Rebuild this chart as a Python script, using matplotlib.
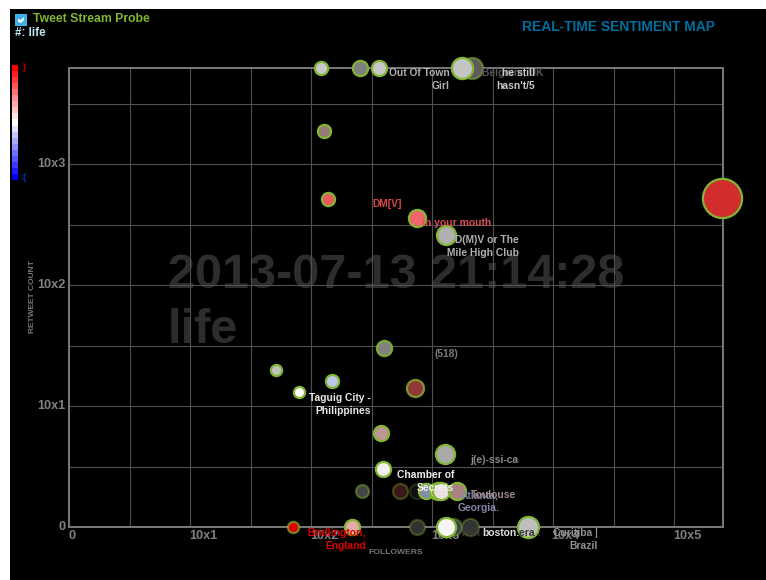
import matplotlib
matplotlib.use("Agg")
import matplotlib.pyplot as plt
from matplotlib.patches import Rectangle, Polygon

W, H = 766, 580

# followers / retweets, zero counts sit at 1 on the log axes
followers = [121, 255, 367, 2155, 1785, 129, 139, 755, 1313, 251000,
             403, 51, 150, 80, 728, 381, 1288, 395, 265, 547,
             755, 897, 1127, 1194, 1618, 71, 219, 755, 1500, 2073, 1313,
             6260]
retweets = [6210, 6210, 6210, 6210, 6210, 1874, 514, 358, 259, 524,
            30, 20, 16, 13, 14, 6, 4, 3, 2, 2,
            2, 2, 2, 2, 2, 1, 1, 1, 1, 1, 1,
            1]
sizes = [7, 8, 8, 11, 11, 7, 7, 9, 10, 20,
         8, 6, 7, 6, 9, 8, 10, 8, 7, 8,
         8, 8, 9, 9, 9, 6, 8, 8, 9, 9, 10,
         11]
fills = ["#c8c8c8", "#7f7f7f", "#c8c8c8", "#5c5c5c", "#c4c4c4", "#967878", "#eb5a5a", "#f0646e", "#b0b0b0", "#d22d2d",
         "#828282", "#c0c0c0", "#bec8eb", "#ffffff", "#913737", "#be9696", "#aaaaaa", "#f0f0f0", "#464646", "#3c1919",
         "#0f0f0f", "#828caf", "#d0d0d0", "#ebe1e1", "#aa8282", "#dc0000", "#e6aaaa", "#323232", "#3c4250", "#323232", "#f5f5f5",
         "#bebebe"]
edge_alpha = [1, 1, 1, 0.55, 1, 1, 1, 1, 1, 1,
              0.9, 1, 1, 1, 0.8, 1, 1, 1, 0.45, 0.35,
              0.2, 1, 1, 1, 1, 0.7, 1, 0.35, 0.4, 0.35, 1,
              1]

labels = ["Out Of Town\nGirl", "Belgium, UK", "he still\nhasn't/5", "DM[V]", "in your mouth",
          "D(M)V or The\nMile High Club", "(518)", "Taguig City -\nPhilippines", "j(e)-ssi-ca",
          "Chamber of\nSecrets", "Atlanta,\nGeorgia.", "Toulouse", "Bridlington,\nEngland",
          "Phil", "boston.", "era :", "Curitiba |\nBrazil"]
label_right = [450, 544, 535, 402, 491, 519, 458, 371, 518, 454, 499, 516, 366, 481, 519, 541, 598]
label_top = [68, 68, 68, 199, 218, 235, 349, 393, 455, 470, 490, 490, 528, 528, 528, 528, 528]
label_colors = ["#b0b0b0", "#555555", "#c8c8c8", "#d84848", "#e05058", "#b0b0b0", "#7a7a7a", "#e8e8e8", "#8a8a8a",
                "#f0f0f0", "#7f88aa", "#a08888", "#d80000", "#3a3a3a", "#e0e0e0", "#3a3a3a", "#909090"]

x_ticks = [10, 100, 1000, 10000, 100000]
x_tick_labels = ["10x1", "10x2", "10x3", "10x4", "10x5"]
y_ticks = [10, 100, 1000]
y_tick_labels = ["10x1", "10x2", "10x3"]

GREEN = (0.51, 0.71, 0.20)
plt.rcParams["font.family"] = ["Liberation Sans", "DejaVu Sans"]
plt.rcParams["font.weight"] = "bold"

fig = plt.figure(figsize=(W / 100, H / 100), dpi=100, facecolor="white")


def px(x, y):
    return x / W, 1 - y / H


def put(x, y, s, **kw):
    kw.setdefault("va", "center")
    fig.text(*px(x, y), s, **kw)


bg = fig.add_axes([0, 0, 1, 1], zorder=0)
bg.set_xlim(0, W)
bg.set_ylim(H, 0)
bg.axis("off")
bg.add_patch(Rectangle((10, 9), W - 10, H - 9, color="black", lw=0))

ax = fig.add_axes([69 / W, 1 - 527 / H, (722.5 - 69) / W, (527 - 68) / H], zorder=1)
ax.patch.set_alpha(0)
ax.set_xscale("log")
ax.set_yscale("log")
ax.set_xlim(1, 10 ** ((722.5 - 69) / 121))
ax.set_ylim(1, 10 ** ((527 - 68) / 121))
ax.set_xticks([10 ** (i / 2) for i in range(1, 11)])
ax.set_yticks([10 ** (i / 2) for i in range(1, 8)])
ax.minorticks_off()
ax.tick_params(length=0, labelbottom=False, labelleft=False)
ax.grid(True, color="#505050", lw=0.8)
ax.set_axisbelow(True)
for s in ax.spines.values():
    s.set_color("#7a7a7a")
    s.set_linewidth(1.4)

# watermark
bg.text(168, 288, "2013-07-13 21:14:28", color="#2d2d2d", fontsize=35, va="baseline", ha="left")
bg.text(168, 343, "life", color="#2d2d2d", fontsize=35, va="baseline", ha="left")

for i in range(len(followers)):
    ax.plot(followers[i], retweets[i], "o", ms=sizes[i] * 1.44 - 0.6,
            mfc=fills[i], mec=(*GREEN, edge_alpha[i]), mew=1.6, clip_on=False, zorder=3)

for t, r, y, c in zip(labels, label_right, label_top, label_colors):
    fig.text(*px(r, y), t, ha="right", va="top", multialignment="right",
             color=c, fontsize=7.4, linespacing=1.42)

# tick labels
for v, t in zip(x_ticks, x_tick_labels):
    ax.annotate(t, xy=(v, 1), xytext=(13, -9), textcoords="offset pixels", color="#808080",
                fontsize=9.2, ha="center", va="center", annotation_clip=False, zorder=2)
put(72, 536, "0", color="#808080", fontsize=9.2, ha="center")
for v, t in zip(y_ticks, y_tick_labels):
    ax.annotate(t, xy=(1, v), xytext=(-3, 0), textcoords="offset pixels", color="#808080",
                fontsize=9.2, ha="right", va="center", annotation_clip=False)
put(66, 527, "0", color="#808080", fontsize=9.2, ha="right")

put(396, 552, "FOLLOWERS", color="#777777", fontsize=6.1, ha="center")
put(33, 297, "RETWEET COUNT", color="#777777", fontsize=6.0, ha="center", rotation=90)

put(33, 19.5, "Tweet Stream Probe", color=GREEN, fontsize=8.8)
put(15, 32.5, "#: life", color="#bde6f0", fontsize=8.4)
put(619, 27, "REAL-TIME SENTIMENT MAP", color="#006e9f", fontsize=10, ha="center")

# twitter icon
bg.add_patch(Rectangle((15, 14), 12, 12, color="#3fb0e8", lw=0))
bg.add_patch(Polygon([(18, 19), (21, 20), (24, 17), (24, 20), (21, 23), (18, 22)], color="white", lw=0))

# sentiment scale
n = 19
for i in range(n):
    t = i / (n - 1)
    if t < 0.5:
        a = t / 0.5
        col = (1, a, a)
    else:
        a = (1 - t) / 0.5
        col = (a, a, 1)
    bg.add_patch(Rectangle((12, 65 + i * 115 / n), 6, 115 / n + 0.3, color=col, lw=0))
put(23, 68, ":)", color="#c00000", fontsize=6.5, ha="center")
put(23, 177, ":(", color="#0030d0", fontsize=6.5, ha="center")

fig.savefig("out.png", dpi=100, facecolor="white")
